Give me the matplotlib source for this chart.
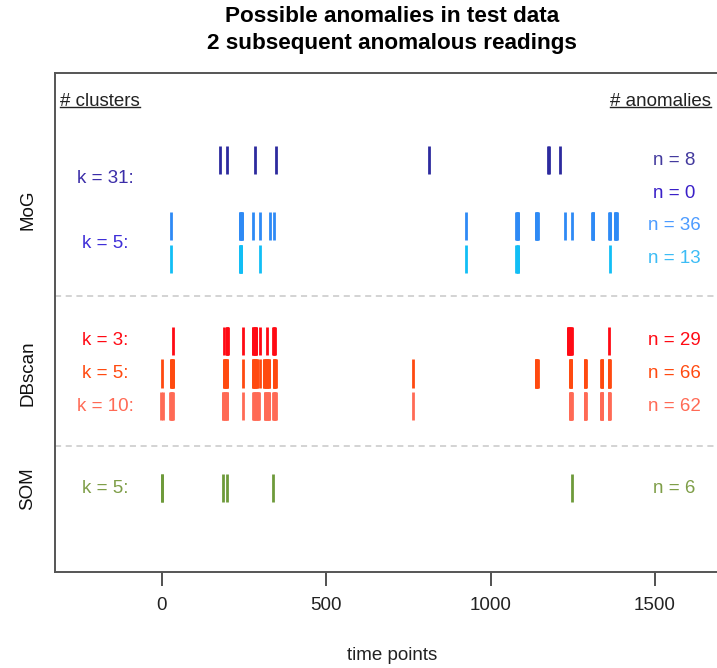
import matplotlib
matplotlib.use("Agg")
import matplotlib.pyplot as plt
from matplotlib.lines import Line2D
from matplotlib.transforms import blended_transform_factory

plt.rcParams['font.family'] = ['Liberation Sans', 'DejaVu Sans']

# anomalous time points per method / setting
mog_k31_a = [177, 199, 282, 347, 812, 1176, 1177, 1210]
mog_k31_b = []
mog_k5_a = [27, 237, 238, 240, 241, 243, 244, 277, 300, 329, 341, 926,
            1078, 1079, 1081, 1082, 1084, 1138, 1139, 1141, 1142, 1143,
            1227, 1246, 1309, 1310, 1311, 1312, 1361, 1362, 1363,
            1378, 1379, 1381, 1382, 1383]
mog_k5_b = [27, 238, 239, 240, 241, 242, 300, 926, 1078, 1080, 1082, 1084, 1362]
dbs_k3 = [33, 188, 197, 198, 199, 200, 248, 277, 278, 280, 282, 284, 286, 287,
          300, 321, 339, 341, 342, 344,
          1234, 1236, 1237, 1239, 1241, 1243, 1245, 1246, 1361]
dbs_k5 = [0, 27, 28, 30, 31, 33, 34, 188, 189, 191, 192, 194, 196, 198, 199,
          248, 277, 278, 280, 281, 283, 284, 286, 288, 289, 300,
          311, 312, 314, 316, 318, 319, 321, 323, 325, 326,
          340, 341, 342, 344, 345, 346, 763,
          1137, 1138, 1139, 1141, 1142, 1143,
          1241, 1242, 1243, 1244, 1245, 1286, 1287, 1288, 1289,
          1337, 1338, 1339, 1340, 1359, 1360, 1361, 1362]
dbs_k10 = [-2, 2, 26, 27, 29, 31, 32, 34, 185, 187, 189, 191, 193, 195, 197, 199,
           248, 277, 279, 281, 283, 285, 287, 289, 291, 293, 295,
           313, 315, 316, 318, 320, 322, 323, 325, 327,
           338, 340, 341, 343, 344, 346, 763,
           1241, 1242, 1243, 1244, 1245, 1246, 1286, 1287, 1288, 1289,
           1336, 1337, 1338, 1339, 1340, 1359, 1360, 1361, 1362]
som_k5 = [0, 1, 187, 199, 339, 1246]

rows = [mog_k31_a, mog_k31_b, mog_k5_a, mog_k5_b, dbs_k3, dbs_k5, dbs_k10, som_k5]
row_y = [12.55, 11.55, 10.55, 9.55, 7.05, 6.05, 5.05, 2.55]
bar_colors = ["#2D2A9E", "#3A20C8", "#2E8AF5", "#12BEF5",
              "#FF0A14", "#FF4A10", "#FF6A55", "#6E9A3A"]
n_colors = ["#433A9E", "#3A20C8", "#4C9BFF", "#3CBCF5",
            "#FF0A14", "#FF4A10", "#FF6A55", "#7E9E48"]

k_labels = ["k = 31:", "k = 5:", "k = 3:", "k = 5:", "k = 10:", "k = 5:"]
k_y = [11.98, 10.0, 7.05, 6.05, 5.05, 2.55]
k_colors = ["#3B2DA8", "#3F2FD8", "#FF0A14", "#FF4A10", "#FF6A55", "#7E9E48"]

groups = ["MoG", "DBscan", "SOM"]
group_y = [11.05, 6.05, 2.55]
separators = [8.4, 3.85]

xticks = [0, 500, 1000, 1500]

W, H = 717, 668
fig = plt.figure(figsize=(W / 100, H / 100), dpi=100)
ax = fig.add_axes([55 / W, (H - 572) / H, (729 - 55) / W, (572 - 73) / H])
ax.set_xlim(-325, 1725)
ax.set_ylim(0, 15.21)

half = 0.43
for xs, y, c in zip(rows, row_y, bar_colors):
    if xs:
        ax.vlines(xs, y - half, y + half, colors=c, linewidth=2.0,
                  capstyle='butt')

for y in separators:
    ax.axhline(y, color="#C8C8C8", linestyle=(0, (4, 3)), linewidth=1.1)

fs = 13.5
for lab, y, c in zip(k_labels, k_y, k_colors):
    ax.text(-173, y, lab, color=c, fontsize=fs, ha='center', va='center')

for xs, y, c in zip(rows, row_y, n_colors):
    ax.text(1558, y, f"n = {len(xs)}", color=c, fontsize=fs,
            ha='center', va='center')

h1 = ax.text(-310, 14.35, "# clusters", color="#222222", fontsize=fs,
             ha='left', va='center')
h2 = ax.text(1670, 14.35, "# anomalies", color="#222222", fontsize=fs,
             ha='right', va='center')

trans = blended_transform_factory(fig.transFigure, ax.transData)
for g, y in zip(groups, group_y):
    ax.text(28 / W, y, g, transform=trans, rotation=90, fontsize=fs,
            ha='center', va='center', color="#111111", clip_on=False)

ax.set_yticks([])
ax.set_xticks(xticks)
ax.set_xticklabels([str(t) for t in xticks], fontsize=fs, color="#222222")
ax.tick_params(axis='x', length=10, width=1.2, color="#333333", pad=8,
               direction='out')
for s in ax.spines.values():
    s.set_color("#555555")
    s.set_linewidth(1.4)

cx = (55 + 729) / 2 / W
fig.text(cx, 1 - 17 / H, "Possible anomalies in test data", fontsize=16.2,
         fontweight='bold', ha='center', va='center')
fig.text(cx, 1 - 44 / H, "2 subsequent anomalous readings", fontsize=16.2,
         fontweight='bold', ha='center', va='center')
fig.text(cx, 1 - 655 / H, "time points", fontsize=fs, ha='center',
         va='center', color="#222222")

# underline the two column headers
fig.canvas.draw()
renderer = fig.canvas.get_renderer()
for t in (h1, h2):
    bb = t.get_window_extent(renderer)
    yu = (bb.y0 + 0.17 * bb.height) / fig.bbox.height
    fig.add_artist(Line2D([bb.x0 / fig.bbox.width, bb.x1 / fig.bbox.width],
                          [yu, yu], transform=fig.transFigure,
                          color="#222222", linewidth=1.0))

fig.savefig("out.png", dpi=100)
